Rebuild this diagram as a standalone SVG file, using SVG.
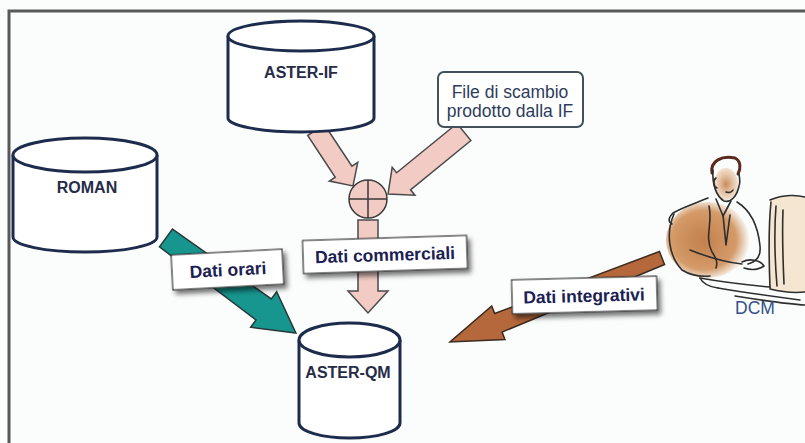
<svg xmlns="http://www.w3.org/2000/svg" width="805" height="443" viewBox="0 0 805 443">
  <style>
    .cyl { fill: #ffffff; stroke: #1d2c4c; stroke-width: 3; }
    .cyl-label { font-family: "Liberation Sans", Arial, sans-serif; font-weight: bold; font-size: 16px; fill: #262c48; text-anchor: middle; }
    .flow-pink { fill: #f2cbc5; stroke: #4a4a4a; stroke-width: 1.5; stroke-linejoin: miter; }
    .flow-teal { fill: #17958f; stroke: #2a3a3a; stroke-width: 1.5; }
    .flow-brown { fill: #b5683b; stroke: #3a2a20; stroke-width: 1.5; }
    .tag { fill: #ffffff; stroke: #333333; stroke-width: 1.2; }
    .tag-label { font-family: "Liberation Sans", Arial, sans-serif; font-weight: bold; font-size: 17.5px; fill: #1b2152; text-anchor: middle; }
    .note-label { font-family: "Liberation Sans", Arial, sans-serif; font-size: 17.5px; fill: #2e3c5c; text-anchor: middle; }
    .sketch { fill: none; stroke: #2e2e2e; stroke-width: 1.6; stroke-linecap: round; stroke-linejoin: round; }
  </style>
  <defs>
    <filter id="shadow" x="-20%" y="-30%" width="150%" height="190%">
      <feDropShadow dx="3" dy="4" stdDeviation="2.5" flood-color="#000000" flood-opacity="0.55"/>
    </filter>
    <radialGradient id="suit" cx="0.45" cy="0.5" r="0.55">
      <stop offset="0" stop-color="#c2804c"/>
      <stop offset="0.7" stop-color="#d49a68"/>
      <stop offset="1" stop-color="#d49a68" stop-opacity="0"/>
    </radialGradient>
    <radialGradient id="face" cx="0.5" cy="0.5" r="0.6">
      <stop offset="0" stop-color="#c98a58"/>
      <stop offset="1" stop-color="#e9c29c" stop-opacity="0.3"/>
    </radialGradient>
  </defs>

  <!-- background and frame -->
  <rect x="0" y="0" width="805" height="443" fill="#fbfdfd"/>
  <path d="M9,443 V11 H805" fill="none" stroke="#585858" stroke-width="3"/>

  <!-- data flows -->
  <g id="connectors">
    <!-- ASTER-IF to merge -->
    <polygon class="flow-pink" transform="translate(316,130) rotate(56.5)" points="0,-10 50,-10 50,-17 67,0 50,17 50,10 0,10"/>
    <!-- exchange file to merge -->
    <polygon class="flow-pink" transform="translate(464,132) rotate(140.8)" points="0,-11 78,-11 78,-18 98,0 78,18 78,11 0,11"/>
    <!-- merge to ASTER-QM -->
    <polygon class="flow-pink" transform="translate(368,220) rotate(90)" points="0,-10 71,-10 71,-20 93,0 71,20 71,10 0,10"/>
    <!-- ROMAN to ASTER-QM -->
    <polygon class="flow-teal" transform="translate(166,238) rotate(36.2)" points="0,-11 121,-13 121,-22 161,0 121,22 121,13 0,11"/>
    <!-- DCM to ASTER-QM -->
    <polygon class="flow-brown" transform="translate(662,258) rotate(158.4)" points="0,-7 176,-10 176,-18 228,0 176,18 176,10 0,7"/>
  </g>

  <!-- merge junction -->
  <g id="merge">
    <circle cx="368" cy="199" r="19" fill="#f2cbc5" stroke="#3a3a3a" stroke-width="1.5"/>
    <path d="M349,199 H387 M368,180 V218" stroke="#3a3a3a" stroke-width="1.5"/>
  </g>

  <!-- databases -->
  <g id="aster-if">
    <path class="cyl" d="M228,36 V118 A73,14 0 0 0 374,118 V36"/>
    <ellipse class="cyl" cx="301" cy="36" rx="73" ry="15"/>
    <text class="cyl-label" x="301" y="78">ASTER-IF</text>
  </g>

  <g id="roman">
    <path class="cyl" d="M13,155 V237 A72,15 0 0 0 157,237 V155"/>
    <ellipse class="cyl" cx="85" cy="155" rx="72" ry="17"/>
    <text class="cyl-label" x="87" y="193">ROMAN</text>
  </g>

  <g id="aster-qm">
    <path class="cyl" d="M299,340 V423 A50.5,15 0 0 0 400,423 V340"/>
    <ellipse class="cyl" cx="349.5" cy="340" rx="50.5" ry="17"/>
    <text class="cyl-label" x="348" y="378">ASTER-QM</text>
  </g>

  <!-- exchange file note -->
  <g id="exchange-file">
    <rect x="438" y="72" width="145" height="55" rx="6" fill="#ffffff" stroke="#44505a" stroke-width="2"/>
    <text class="note-label" x="510" y="98">File di scambio</text>
    <text class="note-label" x="510" y="117">prodotto dalla IF</text>
  </g>

  <!-- flow labels -->
  <g id="label-commerciali" transform="rotate(-1.8 385 254)">
    <rect class="tag" x="303" y="238" width="164" height="33" filter="url(#shadow)"/>
    <text class="tag-label" x="385" y="261">Dati commerciali</text>
  </g>

  <g id="label-orari" transform="rotate(-3 228 270)">
    <rect class="tag" x="172" y="252" width="111" height="35" filter="url(#shadow)"/>
    <text class="tag-label" x="228" y="276">Dati orari</text>
  </g>

  <g id="label-integrativi" transform="rotate(-1.5 585 295)">
    <rect class="tag" x="512" y="278" width="145" height="34" filter="url(#shadow)"/>
    <text class="tag-label" x="584" y="302">Dati integrativi</text>
  </g>

  <!-- DCM operator at workstation -->
  <g id="dcm">
    <ellipse cx="708" cy="240" rx="42" ry="38" fill="url(#suit)"/>
    <ellipse cx="726" cy="184" rx="12" ry="16" fill="url(#face)"/>
    <!-- monitor -->
    <path d="M770,200 C784,194 798,195 805,197 V292 C790,294 777,292 769,289 Z" fill="#f5e6d2" stroke="none"/>
    <path class="sketch" d="M770,200 C784,194 798,195 805,197 M771,202 C768,230 769,262 770,288 M776,206 C774,232 775,262 777,286 M770,289 C782,292 795,293 805,292"/>
    <path class="sketch" d="M783,210 C782,235 783,262 784,284" stroke-width="1"/>
    <!-- hair -->
    <path d="M712,173 C710,161 722,155 735,158 C741,161 741,168 738,174" fill="none" stroke="#5b2a1e" stroke-width="3" stroke-linecap="round"/>
    <!-- face and head -->
    <path class="sketch" d="M713,170 C712,184 716,196 724,201 C731,203 737,196 739,186 M739,174 C740,180 740,184 739,186"/>
    <path class="sketch" d="M716,178 C713,180 713,186 717,188" stroke-width="1.2"/>
    <path class="sketch" d="M726,192 C729,193 732,192 733,190" stroke-width="1"/>
    <!-- shoulders, collar and tie -->
    <path class="sketch" d="M708,198 C696,203 683,207 673,213 C668,218 668,222 672,224"/>
    <path class="sketch" d="M674,214 C666,232 668,255 682,270 C690,275 700,277 710,276"/>
    <path class="sketch" d="M716,199 L723,216 L731,201"/>
    <path class="sketch" d="M723,215 L726,245 L730,215" stroke-width="1.2"/>
    <path class="sketch" d="M709,206 C713,224 704,236 712,252 C716,258 718,262 716,268"/>
    <path class="sketch" d="M737,202 C750,210 758,226 760,246 C761,256 756,262 748,264"/>
    <path class="sketch" d="M690,250 C705,256 722,262 742,264"/>
    <!-- hands and keyboard -->
    <path class="sketch" d="M742,262 C750,258 760,260 764,266 C758,270 750,270 744,268"/>
    <path class="sketch" d="M700,278 C722,282 748,285 770,287 M718,288 C742,292 770,296 800,300 M735,296 C760,300 785,304 805,305"/>
    <path class="sketch" d="M700,278 C703,284 710,287 718,288" stroke-width="1.2"/>
    <text x="755" y="314" font-family="'Liberation Sans', Arial, sans-serif" font-size="17.5" fill="#34508a" text-anchor="middle">DCM</text>
  </g>
</svg>
